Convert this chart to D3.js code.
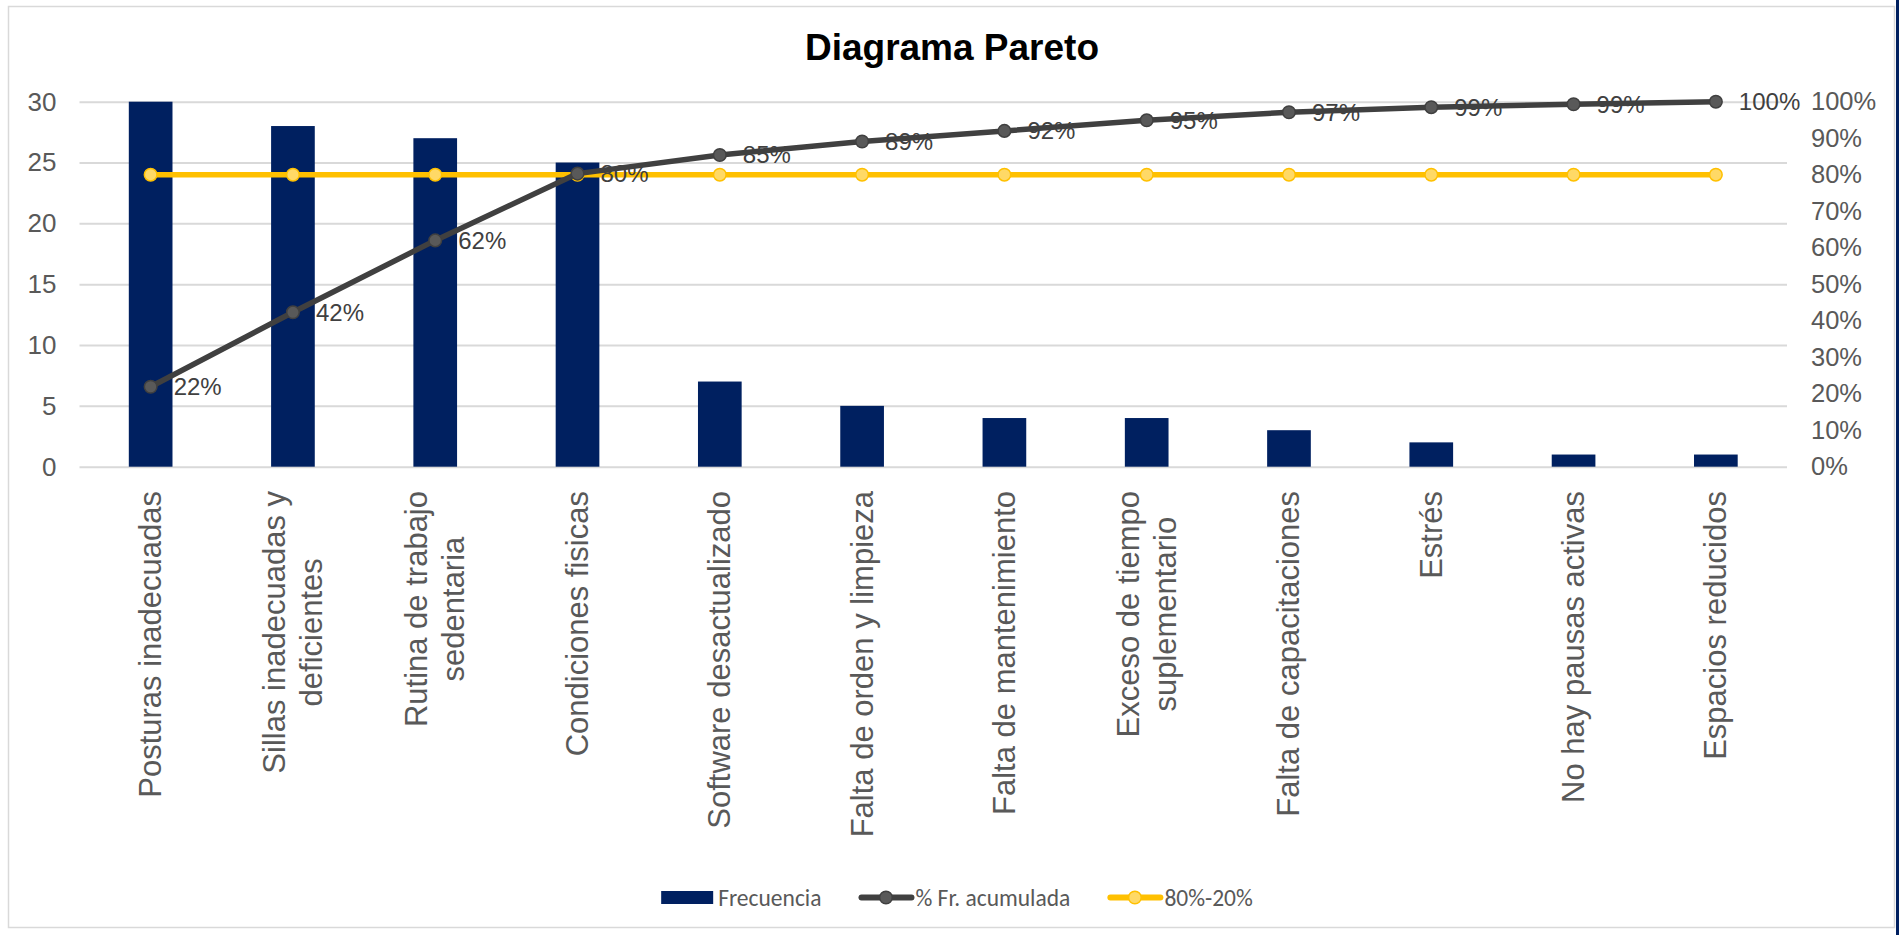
<!DOCTYPE html>
<html>
<head>
<meta charset="utf-8">
<script src="https://cdn.jsdelivr.net/npm/d3@7"></script>
<style>
  html, body { margin: 0; padding: 0; background: #ffffff; }
  svg { display: block; }
</style>
</head>
<body>
<svg id="chart" width="1899" height="935"></svg>
<script>
// ---------- data ----------
const categories = [
  ["Posturas inadecuadas"],
  ["Sillas inadecuadas y", "deficientes"],
  ["Rutina de trabajo", "sedentaria"],
  ["Condiciones fisicas"],
  ["Software desactualizado"],
  ["Falta de orden y limpieza"],
  ["Falta de mantenimiento"],
  ["Exceso de tiempo", "suplementario"],
  ["Falta de capacitaciones"],
  ["Estrés"],
  ["No hay pausas activas"],
  ["Espacios reducidos"]
];
const frecuencia = [30, 28, 27, 25, 7, 5, 4, 4, 3, 2, 1, 1];
const acumulada = [0.219, 0.423, 0.620, 0.803, 0.854, 0.891, 0.920, 0.949, 0.971, 0.985, 0.993, 1.000];
const linea8020 = [0.8, 0.8, 0.8, 0.8, 0.8, 0.8, 0.8, 0.8, 0.8, 0.8, 0.8, 0.8];
const leftTicks = [0, 5, 10, 15, 20, 25, 30];
const rightTicks = [0, 0.1, 0.2, 0.3, 0.4, 0.5, 0.6, 0.7, 0.8, 0.9, 1.0];
const legendLabels = ["Frecuencia", "% Fr. acumulada", "80%-20%"];
const titleText = "Diagrama Pareto";

// ---------- styles ----------
const C = {
  bar: "#002060",
  cum: "#404040",
  cumMarker: "#595959",
  gold: "#FFC000",
  goldMarker: "#FFD966",
  grid: "#D9D9D9",
  tick: "#595959",
  label: "#404040"
};
const FONT = "'Liberation Sans', Arial, Helvetica, sans-serif";

const svg = d3.select("#chart");
const W = 1899, H = 935;
const plot = { left: 79.5, right: 1787, top: 101.7, bottom: 466.7 };

svg.append("rect").attr("width", W).attr("height", H).attr("fill", "#ffffff");
// chart border
svg.append("rect").attr("x", 8.5).attr("y", 6.5).attr("width", 1886).attr("height", 921)
  .attr("fill", "none").attr("stroke", C.grid).attr("stroke-width", 1.5);
svg.append("rect").attr("x", 1896).attr("y", 0).attr("width", 3).attr("height", H).attr("fill", "#002060");

// ---------- scales ----------
const idx = d3.range(categories.length);
const x = d3.scaleBand().domain(idx).range([plot.left, plot.right]).padding(0);
const yL = d3.scaleLinear().domain([0, 30]).range([plot.bottom, plot.top]);
const yR = d3.scaleLinear().domain([0, 1]).range([plot.bottom, plot.top]);
const cx = i => x(i) + x.bandwidth() / 2;
const barW = x.bandwidth() * 0.307;

// ---------- gridlines ----------
const gGrid = svg.append("g")
  .attr("transform", `translate(${plot.left},0)`)
  .call(d3.axisLeft(yL).tickValues(leftTicks).tickSize(-(plot.right - plot.left)).tickFormat(""));
gGrid.select(".domain").remove();
gGrid.selectAll(".tick line").attr("stroke", C.grid).attr("stroke-width", 2);

// ---------- left axis ----------
const gL = svg.append("g")
  .attr("transform", `translate(${plot.left},0)`)
  .call(d3.axisLeft(yL).tickValues(leftTicks).tickSize(0).tickPadding(23));
gL.select(".domain").remove();
gL.selectAll("text").attr("font-family", FONT).attr("font-size", 26).attr("fill", C.tick);

// ---------- right axis ----------
const gR = svg.append("g")
  .attr("transform", `translate(${plot.right},0)`)
  .call(d3.axisRight(yR).tickValues(rightTicks).tickSize(0).tickPadding(24).tickFormat(d3.format(".0%")));
gR.select(".domain").remove();
gR.selectAll("text").attr("font-family", FONT).attr("font-size", 25.5).attr("fill", C.tick);

// ---------- bars ----------
svg.append("g").selectAll("rect").data(frecuencia).join("rect")
  .attr("x", (d, i) => cx(i) - barW / 2)
  .attr("y", d => yL(d))
  .attr("width", barW)
  .attr("height", d => yL(0) - yL(d))
  .attr("fill", C.bar);

// ---------- category labels ----------
const labelTop = 491;
const gCat = svg.append("g");
categories.forEach((lines, i) => {
  const g = gCat.append("g");
  const t = g.append("text")
    .attr("font-family", FONT).attr("font-size", 31).attr("fill", C.tick)
    .attr("text-anchor", "middle");
  const n = lines.length;
  lines.forEach((ln, k) => {
    t.append("tspan").attr("x", 0).attr("y", (k - (n - 1) / 2) * 37)
      .attr("dominant-baseline", "central").text(ln);
  });
  let maxW = 0;
  t.selectAll("tspan").each(function () { maxW = Math.max(maxW, this.getComputedTextLength()); });
  g.attr("transform", `translate(${cx(i)},${labelTop + maxW / 2}) rotate(-90)`);
});

// ---------- lines ----------
const lineCum = d3.line().x((d, i) => cx(i)).y(d => yR(d));
svg.append("path").datum(linea8020).attr("d", lineCum)
  .attr("fill", "none").attr("stroke", C.gold).attr("stroke-width", 5.5).attr("stroke-linejoin", "round");
svg.append("g").selectAll("circle").data(linea8020).join("circle")
  .attr("cx", (d, i) => cx(i)).attr("cy", d => yR(d)).attr("r", 6.3)
  .attr("fill", C.goldMarker).attr("stroke", C.gold).attr("stroke-width", 1.5);

svg.append("path").datum(acumulada).attr("d", lineCum)
  .attr("fill", "none").attr("stroke", C.cum).attr("stroke-width", 5.5).attr("stroke-linejoin", "round");
svg.append("g").selectAll("circle").data(acumulada).join("circle")
  .attr("cx", (d, i) => cx(i)).attr("cy", d => yR(d)).attr("r", 6.3)
  .attr("fill", C.cumMarker).attr("stroke", C.cum).attr("stroke-width", 1.5);

// data labels
svg.append("g").selectAll("text").data(acumulada).join("text")
  .attr("x", (d, i) => cx(i) + 23)
  .attr("y", d => yR(d))
  .attr("dominant-baseline", "central")
  .attr("font-family", FONT).attr("font-size", 24).attr("fill", C.label)
  .text(d => d3.format(".0%")(d));

// ---------- title ----------
svg.append("text").attr("x", 952).attr("y", 60).attr("text-anchor", "middle")
  .attr("font-family", FONT).attr("font-weight", "bold").attr("font-size", 37).attr("fill", "#000000")
  .text(titleText);

// ---------- legend ----------
const LFONT = "Carlito, Lato, 'Open Sans', sans-serif";
const legY = 897.5;
const leg = svg.append("g");
let lx = 0;
legendLabels.forEach((lab, i) => {
  const g = leg.append("g").attr("transform", `translate(${lx},0)`);
  if (i === 0) {
    g.append("rect").attr("x", 0).attr("y", legY - 6.5).attr("width", 52).attr("height", 13).attr("fill", C.bar);
  } else {
    const col = i === 1 ? C.cum : C.gold;
    const mcol = i === 1 ? C.cumMarker : C.goldMarker;
    g.append("line").attr("x1", 3).attr("x2", 53).attr("y1", legY).attr("y2", legY)
      .attr("stroke", col).attr("stroke-width", 6).attr("stroke-linecap", "round");
    g.append("circle").attr("cx", 27.5).attr("cy", legY).attr("r", 6.3)
      .attr("fill", mcol).attr("stroke", col).attr("stroke-width", 1.5);
  }
  const t = g.append("text").attr("x", 57).attr("y", legY).attr("dominant-baseline", "central")
    .attr("font-family", LFONT).attr("font-size", 23.5).attr("fill", C.tick).text(lab);
  lx += 57 + t.node().getComputedTextLength() + 37;
});
const legW = lx - 37;
leg.attr("transform", `translate(${957 - legW / 2},0)`);
</script>
</body>
</html>
